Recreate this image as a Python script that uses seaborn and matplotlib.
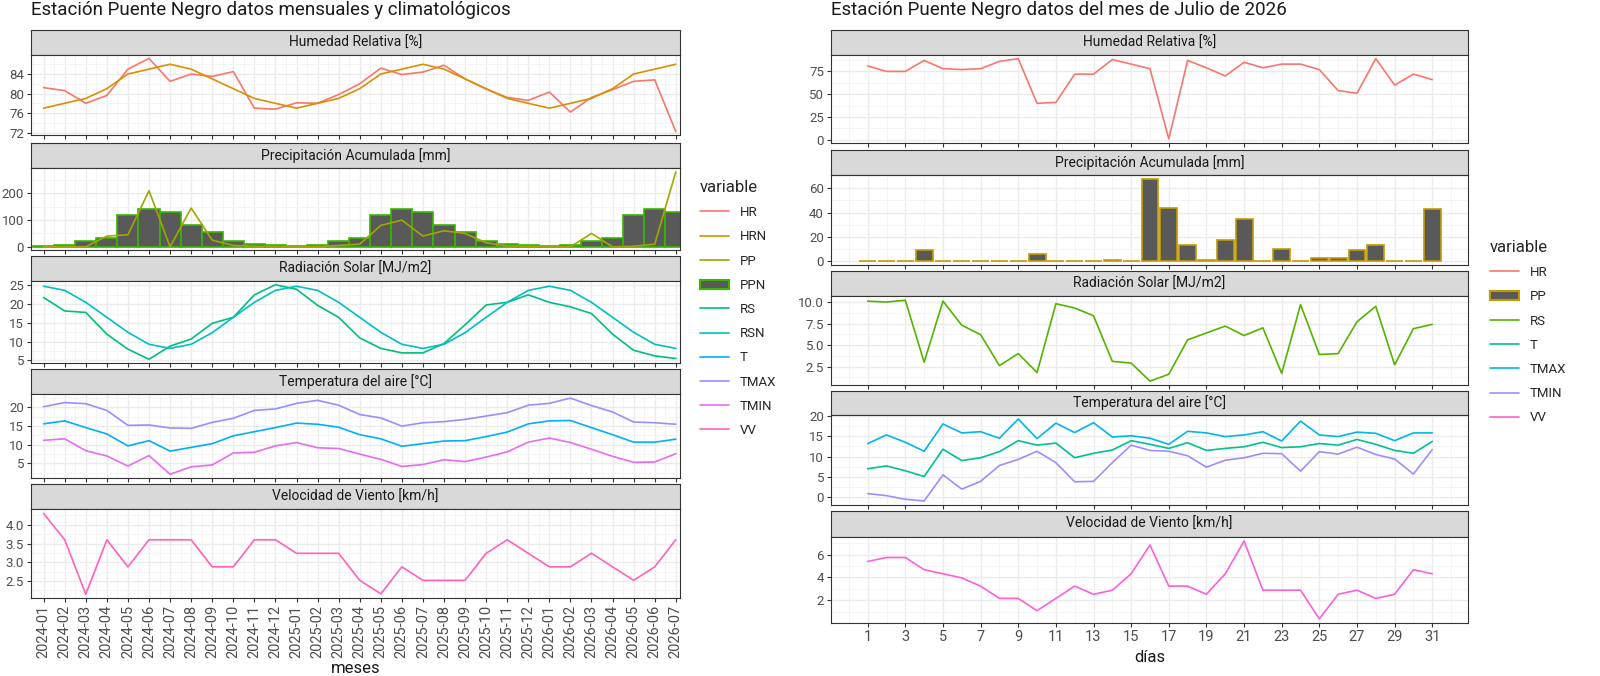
import numpy as np
import pandas as pd
import seaborn as sns
import matplotlib
matplotlib.use("Agg")
from matplotlib import pyplot as plt
from matplotlib.lines import Line2D
from matplotlib.patches import Patch
from matplotlib.ticker import MultipleLocator

sns.set_theme(style="white")
plt.rcParams['font.family'] = ['Roboto', 'DejaVu Sans']

W, H = 1600, 676

# ---- monthly data (left) ----
meses = pd.period_range("2024-01", "2026-07", freq="M").strftime("%Y-%m").tolist()
mensual = {
    "HR": [81.2, 80.6, 78, 79.6, 85, 87.2, 82.5, 84, 83.5, 84.5, 77, 76.8, 78.1, 78, 79.8, 82, 85.2, 83.9, 84.4, 85.8,
           83, 80.9, 79.2, 78.6, 80.3, 76.2, 79.2, 80.8, 82.5, 82.8, 72.2],
    "HRN": [77, 78, 79, 81, 84, 85, 86, 85, 83, 81, 79, 78, 77, 78, 79, 81, 84, 85, 86, 85, 83, 81, 79, 78, 77, 78, 79,
            81, 84, 85, 86],
    "PP": [0, 0, 0, 40, 45, 210, 0, 145, 25, 5, 2, 1, 0, 0, 5, 10, 80, 100, 40, 60, 50, 15, 3, 2, 0, 0, 50, 0, 2, 10, 280],
    "PPN": [2, 8, 20, 32, 118, 143, 130, 80, 55, 20, 12, 6, 2, 8, 20, 32, 118, 143, 130, 80, 55, 20, 12, 6, 2, 8, 20, 32,
            118, 143, 130],
    "RS": [21.8, 18.2, 17.8, 12, 8, 5.3, 8.8, 10.7, 14.9, 16.5, 22.5, 25.2, 24, 19.7, 16.5, 11, 8.2, 7, 7, 9.5, 14.5,
           19.8, 20.5, 22.5, 20.5, 19.3, 17.5, 12, 7.7, 6.2, 5.5],
    "RSN": [24.8, 23.7, 20.5, 16.5, 12.5, 9.3, 8.2, 9.3, 12.4, 16.5, 20.5, 23.7, 24.8, 23.7, 20.5, 16.5, 12.5, 9.3, 8.2,
            9.3, 12.4, 16.5, 20.5, 23.7, 24.8, 23.7, 20.5, 16.5, 12.5, 9.3, 8.2],
    "T": [15.6, 16.4, 14.6, 12.9, 9.7, 11.1, 8.3, 9.3, 10.3, 12.4, 13.5, 14.6, 15.8, 15.5, 14.7, 12.7, 11.6, 9.6, 10.3,
          11, 11.1, 12.2, 13.4, 15.6, 16.4, 16.5, 14.6, 12.7, 10.7, 10.7, 11.5],
    "TMAX": [20.2, 21.3, 21, 19.2, 15.2, 15.3, 14.5, 14.4, 16, 17.1, 19.2, 19.6, 21.1, 21.9, 20.6, 18.1, 17.2, 15, 15.9,
             16.2, 16.8, 17.7, 18.6, 20.6, 21.1, 22.5, 20.5, 18.8, 16.1, 15.9, 15.5],
    "TMIN": [11.2, 11.6, 8.4, 7, 4.3, 7.1, 2.1, 4.1, 4.6, 7.8, 8, 9.7, 10.6, 9.2, 9, 7.5, 6.1, 4.2, 4.7, 6, 5.5, 6.7,
             8.1, 10.7, 11.8, 10.6, 8.8, 6.9, 5.3, 5.4, 7.6],
    "VV": [4.3, 3.6, 2.15, 3.6, 2.88, 3.6, 3.6, 3.6, 2.88, 2.88, 3.6, 3.6, 3.24, 3.24, 3.24, 2.52, 2.16, 2.88, 2.52,
           2.52, 2.52, 3.24, 3.6, 3.24, 2.88, 2.88, 3.24, 2.88, 2.52, 2.88, 3.6],
}
df_m = pd.DataFrame(mensual)
df_m["x"] = np.arange(len(meses))

# ---- daily data (right) ----
diario = {
    "HR": [81, 75, 75, 87, 78, 77, 78, 86, 89, 40, 41, 72, 72, 88, 83, 78, 1, 87, 79, 70, 85, 79, 83, 83, 77, 54, 51,
           89, 60, 72, 66],
    "PP": [0, 0, 0, 9, 0, 0, 0, 0, 0, 6, 0, 0, 0, 0.5, 0, 68, 44, 13, 0.5, 17, 35, 0, 10, 0, 2, 2, 9, 13, 0, 0, 43],
    "RS": [10.1, 10, 10.2, 3, 10.1, 7.3, 6.2, 2.6, 4, 1.8, 9.8, 9.3, 8.4, 3.1, 2.9, 0.8, 1.6, 5.6, 6.4, 7.2, 6.1, 7,
           1.7, 9.7, 3.9, 4, 7.7, 9.5, 2.7, 6.9, 7.4],
    "T": [7, 7.7, 6.5, 5.1, 11.8, 9, 9.7, 11.2, 13.9, 12.8, 13.3, 9.7, 10.8, 11.6, 13.9, 13, 12, 13.4, 11.5, 12, 12.4,
          13.5, 12.2, 12.4, 13.2, 12.8, 14.2, 13, 11.5, 10.8, 13.7],
    "TMAX": [13.2, 15.3, 13.5, 11.3, 18, 15.8, 16.1, 14.5, 19.2, 14.4, 18.2, 15.9, 18.3, 14.8, 15.1, 14.5, 13, 16.2,
             15.8, 14.9, 15.3, 16.1, 13.8, 18.7, 15.3, 14.9, 16, 15.7, 13.9, 15.8, 15.8],
    "TMIN": [0.9, 0.4, -0.5, -0.9, 5.5, 2, 3.9, 7.8, 9.3, 11.3, 8.5, 3.8, 3.9, 8.5, 12.8, 11.5, 11.3, 10.2, 7.4, 9.1,
             9.7, 10.8, 10.7, 6.4, 11.2, 10.6, 12.3, 10.5, 9.4, 5.7, 11.7],
    "VV": [5.4, 5.75, 5.75, 4.68, 4.32, 3.96, 3.24, 2.16, 2.16, 1.08, 2.16, 3.24, 2.52, 2.88, 4.32, 6.84, 3.24, 3.24,
           2.52, 4.32, 7.2, 2.88, 2.88, 2.88, 0.36, 2.52, 2.88, 2.16, 2.52, 4.68, 4.32],
}
df_d = pd.DataFrame(diario)
df_d["x"] = np.arange(1, 32)

pal_m = dict(zip(["HR", "HRN", "PP", "PPN", "RS", "RSN", "T", "TMAX", "TMIN", "VV"],
                 ["#F8766D", "#D89000", "#A3A500", "#39B600", "#00BF7D", "#00BFC4", "#00B0F6", "#9590FF",
                  "#E76BF3", "#FF62BC"]))
pal_d = dict(zip(["HR", "PP", "RS", "T", "TMAX", "TMIN", "VV"],
                 ["#F8766D", "#C49A00", "#53B400", "#00C094", "#00B6EB", "#A58AFF", "#FB61D7"]))

fig = plt.figure(figsize=(W / 100, H / 100), dpi=100)


def px_axes(x0, y0, x1, y1):
    return fig.add_axes([x0 / W, 1 - y1 / H, (x1 - x0) / W, (y1 - y0) / H])


def panel(x0, x1, ys, title):
    s = px_axes(x0, ys[0], x1, ys[1])
    s.set_facecolor("#D9D9D9")
    s.set_xticks([]); s.set_yticks([])
    for sp in s.spines.values():
        sp.set_color("#333333"); sp.set_linewidth(0.8)
    s.text(0.5, 0.5, title, ha="center", va="center", fontsize=10, color="#1A1A1A", transform=s.transAxes)
    ax = px_axes(x0, ys[1], x1, ys[2])
    for sp in ax.spines.values():
        sp.set_color("#333333"); sp.set_linewidth(0.8)
    ax.grid(True, which="major", color="#EBEBEB", lw=1.0)
    ax.grid(True, which="minor", color="#F3F3F3", lw=0.6)
    ax.set_axisbelow(True)
    ax.tick_params(axis="both", which="major", length=3, width=0.8, color="#333333", labelsize=9.5,
                   labelcolor="#4D4D4D", pad=2, left=True, bottom=True, direction="out")
    ax.tick_params(which="minor", length=0)
    ax.set_xlabel(""); ax.set_ylabel("")
    return ax


def lines(ax, df, cols, pal):
    long = df.melt(id_vars="x", value_vars=cols, var_name="variable", value_name="valor")
    sns.lineplot(data=long, x="x", y="valor", hue="variable", palette=pal, ax=ax, legend=False, lw=1.2)
    ax.set_xlabel(""); ax.set_ylabel("")


# ---------- left ----------
LX0, LX1 = 31, 680
rows_l = [(30, 55, 135), (143, 168, 250), (256, 281, 363), (369, 394, 478), (484, 509, 598)]
titles = ["Humedad Relativa [%]", "Precipitación Acumulada [mm]", "Radiación Solar [MJ/m2]",
          "Temperatura del aire [°C]", "Velocidad de Viento [km/h]"]
axl = [panel(LX0, LX1, r, t) for r, t in zip(rows_l, titles)]

lines(axl[0], df_m, ["HR", "HRN"], pal_m)
axl[0].set_yticks([72, 76, 80, 84]); axl[0].set_ylim(71.5, 87.9)
axl[1].bar(df_m["x"], df_m["PPN"], width=1.0, color="#595959", edgecolor=pal_m["PPN"], lw=1.2)
lines(axl[1], df_m, ["PP"], pal_m)
axl[1].set_yticks([0, 100, 200]); axl[1].set_ylim(-12, 295)
lines(axl[2], df_m, ["RS", "RSN"], pal_m)
axl[2].set_yticks([5, 10, 15, 20, 25]); axl[2].set_ylim(4.3, 26.2)
lines(axl[3], df_m, ["T", "TMAX", "TMIN"], pal_m)
axl[3].set_yticks([5, 10, 15, 20]); axl[3].set_ylim(1.1, 23.6)
lines(axl[4], df_m, ["VV"], pal_m)
axl[4].set_yticks([2.5, 3.0, 3.5, 4.0]); axl[4].set_ylim(2.05, 4.42)
for i, ax in enumerate(axl):
    ax.set_xlim(-0.6, 30.2)
    ax.set_xticks(df_m["x"])
    ax.xaxis.set_minor_locator(MultipleLocator(0.5))
    ax.yaxis.set_minor_locator(matplotlib.ticker.AutoMinorLocator(2))
    if i < 4:
        ax.tick_params(axis="x", labelbottom=False)
axl[4].set_xticklabels(meses, rotation=90, fontsize=10.5)
axl[4].set_xlabel("meses", fontsize=12, color="#1A1A1A", labelpad=2)

fig.text(LX0 / W, 1 - 10 / H, "Estación Puente Negro datos mensuales y climatológicos", fontsize=13.5,
         va="center", color="#1A1A1A")

hand = []
for k, c in pal_m.items():
    if k == "PPN":
        hand.append(Patch(facecolor="#595959", edgecolor=c, lw=1.5, label=k))
    else:
        hand.append(Line2D([], [], color=c, lw=1.2, label=k))
fig.legend(handles=hand, title="variable", loc="upper left", bbox_to_anchor=(688 / W, 1 - 168 / H), frameon=False,
           fontsize=9.5, title_fontsize=12, labelspacing=0.85, handlelength=2.2, alignment="left")

# ---------- right ----------
RX0, RX1 = 831, 1468
rows_r = [(30, 55, 143), (150, 175, 265), (271, 296, 385), (391, 415, 505), (511, 537, 623)]
axr = [panel(RX0, RX1, r, t) for r, t in zip(rows_r, titles)]

lines(axr[0], df_d, ["HR"], pal_d)
axr[0].set_yticks([0, 25, 50, 75]); axr[0].set_ylim(-3.5, 93)
axr[1].bar(df_d["x"], df_d["PP"], width=0.9, color="#595959", edgecolor=pal_d["PP"], lw=1.2)
axr[1].set_yticks([0, 20, 40, 60]); axr[1].set_ylim(-3.4, 71)
lines(axr[2], df_d, ["RS"], pal_d)
axr[2].set_yticks([2.5, 5.0, 7.5, 10.0]); axr[2].set_ylim(0.35, 10.7)
lines(axr[3], df_d, ["T", "TMAX", "TMIN"], pal_d)
axr[3].set_yticks([0, 5, 10, 15, 20]); axr[3].set_ylim(-1.9, 20.2)
lines(axr[4], df_d, ["VV"], pal_d)
axr[4].set_yticks([2, 4, 6]); axr[4].set_ylim(0.0, 7.55)
for i, ax in enumerate(axr):
    ax.set_xlim(-0.95, 32.9)
    ax.set_xticks(range(1, 32, 2))
    ax.xaxis.set_minor_locator(MultipleLocator(1))
    ax.yaxis.set_minor_locator(matplotlib.ticker.AutoMinorLocator(2))
    if i < 4:
        ax.tick_params(axis="x", labelbottom=False)
axr[4].tick_params(axis="x", labelsize=10.5)
axr[4].set_xlabel("días", fontsize=12, color="#1A1A1A", labelpad=4)

fig.text(RX0 / W, 1 - 10 / H, "Estación Puente Negro datos del mes de Julio de 2026", fontsize=13.5,
         va="center", color="#1A1A1A")

hand = []
for k, c in pal_d.items():
    if k == "PP":
        hand.append(Patch(facecolor="#595959", edgecolor=c, lw=1.5, label=k))
    else:
        hand.append(Line2D([], [], color=c, lw=1.2, label=k))
fig.legend(handles=hand, title="variable", loc="upper left", bbox_to_anchor=(1478 / W, 1 - 228 / H), frameon=False,
           fontsize=9.5, title_fontsize=12, labelspacing=0.85, handlelength=2.2, alignment="left")

fig.savefig("out.png", dpi=100, facecolor="white")
